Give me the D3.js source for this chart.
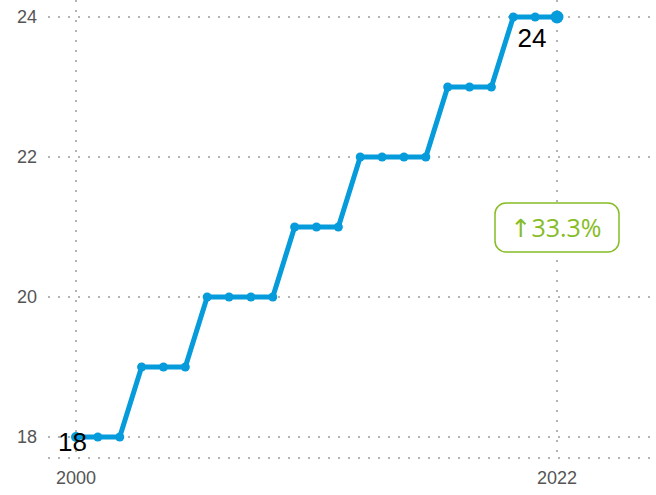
<!DOCTYPE html>
<html>
<head>
<meta charset="utf-8">
<script src="https://cdn.jsdelivr.net/npm/d3@7"></script>
<style>
  body { margin: 0; background: #fff; }
  text { font-family: "Liberation Sans", Arial, sans-serif; }
</style>
</head>
<body>
<div id="chart"></div>
<script>
// yearly values
const years = d3.range(2000, 2023)
const values = [18, 18, 18, 19, 19, 19, 20, 20, 20, 20, 21, 21, 21, 22, 22, 22, 22, 23, 23, 23, 24, 24, 24]
const yTicks = [18, 20, 22, 24]
const xTicks = [2000, 2022]
const changeArrow = "↑"
const changeLabel = "33.3%"

const width = 656, height = 495
const plotLeft = 48, plotRight = 656, plotTop = 0, plotBottom = 458

const svg = d3.select("#chart").append("svg")
  .attr("width", width)
  .attr("height", height)

const x = d3.scaleLinear().domain([2000, 2022]).range([76, 557])
const y = d3.scaleLinear().domain([18, 24]).range([437, 17])

const grid = svg.append("g")
  .attr("stroke", "#b3b3b3")
  .attr("stroke-width", 2)
  .attr("stroke-dasharray", "2,8")

// horizontal grid
grid.selectAll(".h").data(yTicks).join("line")
  .attr("x1", plotLeft).attr("x2", plotRight)
  .attr("y1", d => y(d)).attr("y2", d => y(d))
grid.append("line")
  .attr("x1", plotLeft).attr("x2", plotRight)
  .attr("y1", plotBottom).attr("y2", plotBottom)

// vertical grid
grid.selectAll(".v").data(xTicks).join("line")
  .attr("x1", d => x(d)).attr("x2", d => x(d))
  .attr("y1", plotTop).attr("y2", plotBottom)

// tick labels
svg.append("g").selectAll("text").data(yTicks).join("text")
  .attr("x", 37).attr("y", d => y(d))
  .attr("dy", "0.35em")
  .attr("text-anchor", "end")
  .attr("font-size", 18)
  .attr("fill", "#555")
  .text(d => d)

svg.append("g").selectAll("text").data(xTicks).join("text")
  .attr("x", d => x(d)).attr("y", 478)
  .attr("dy", "0.35em")
  .attr("text-anchor", "middle")
  .attr("font-size", 18)
  .attr("fill", "#555")
  .text(d => d)

const data = years.map((yr, i) => ({ year: yr, value: values[i] }))

const line = d3.line().x(d => x(d.year)).y(d => y(d.value))

svg.append("path")
  .datum(data)
  .attr("fill", "none")
  .attr("stroke", "#069bdb")
  .attr("stroke-width", 5)
  .attr("stroke-linejoin", "round")
  .attr("d", line)

svg.append("g").selectAll("circle").data(data).join("circle")
  .attr("cx", d => x(d.year)).attr("cy", d => y(d.value))
  .attr("r", (d, i) => i === data.length - 1 ? 6.5 : (i === 0 ? 5 : 4.5))
  .attr("fill", "#069bdb")

// start / end labels
const first = data[0], last = data[data.length - 1]
svg.append("text")
  .attr("x", x(first.year) - 18).attr("y", y(first.value) + 5)
  .attr("dy", "0.35em")
  .attr("font-size", 26)
  .attr("fill", "#000")
  .text(first.value)

svg.append("text")
  .attr("x", x(last.year) - 25).attr("y", y(last.value) + 21)
  .attr("dy", "0.35em")
  .attr("text-anchor", "middle")
  .attr("font-size", 26)
  .attr("fill", "#000")
  .text(last.value)

// change badge
const bx = x(last.year), by = y(21)
const badge = svg.append("g")
badge.append("rect")
  .attr("x", bx - 62).attr("y", by - 24)
  .attr("width", 124).attr("height", 49)
  .attr("rx", 11)
  .attr("fill", "#fff")
  .attr("stroke", "#86bc25")
  .attr("stroke-width", 1.5)
const bt = badge.append("text")
  .attr("x", bx - 1).attr("y", by + 1)
  .attr("dy", "0.35em")
  .attr("text-anchor", "middle")
  .attr("font-size", 25)
  .attr("fill", "#86bc25")
  .style("font-family", "'Open Sans', 'Noto Sans', sans-serif")
bt.append("tspan").style("font-family", "'DejaVu Sans', sans-serif").text(changeArrow)
bt.append("tspan").text(changeLabel)
</script>
</body>
</html>
